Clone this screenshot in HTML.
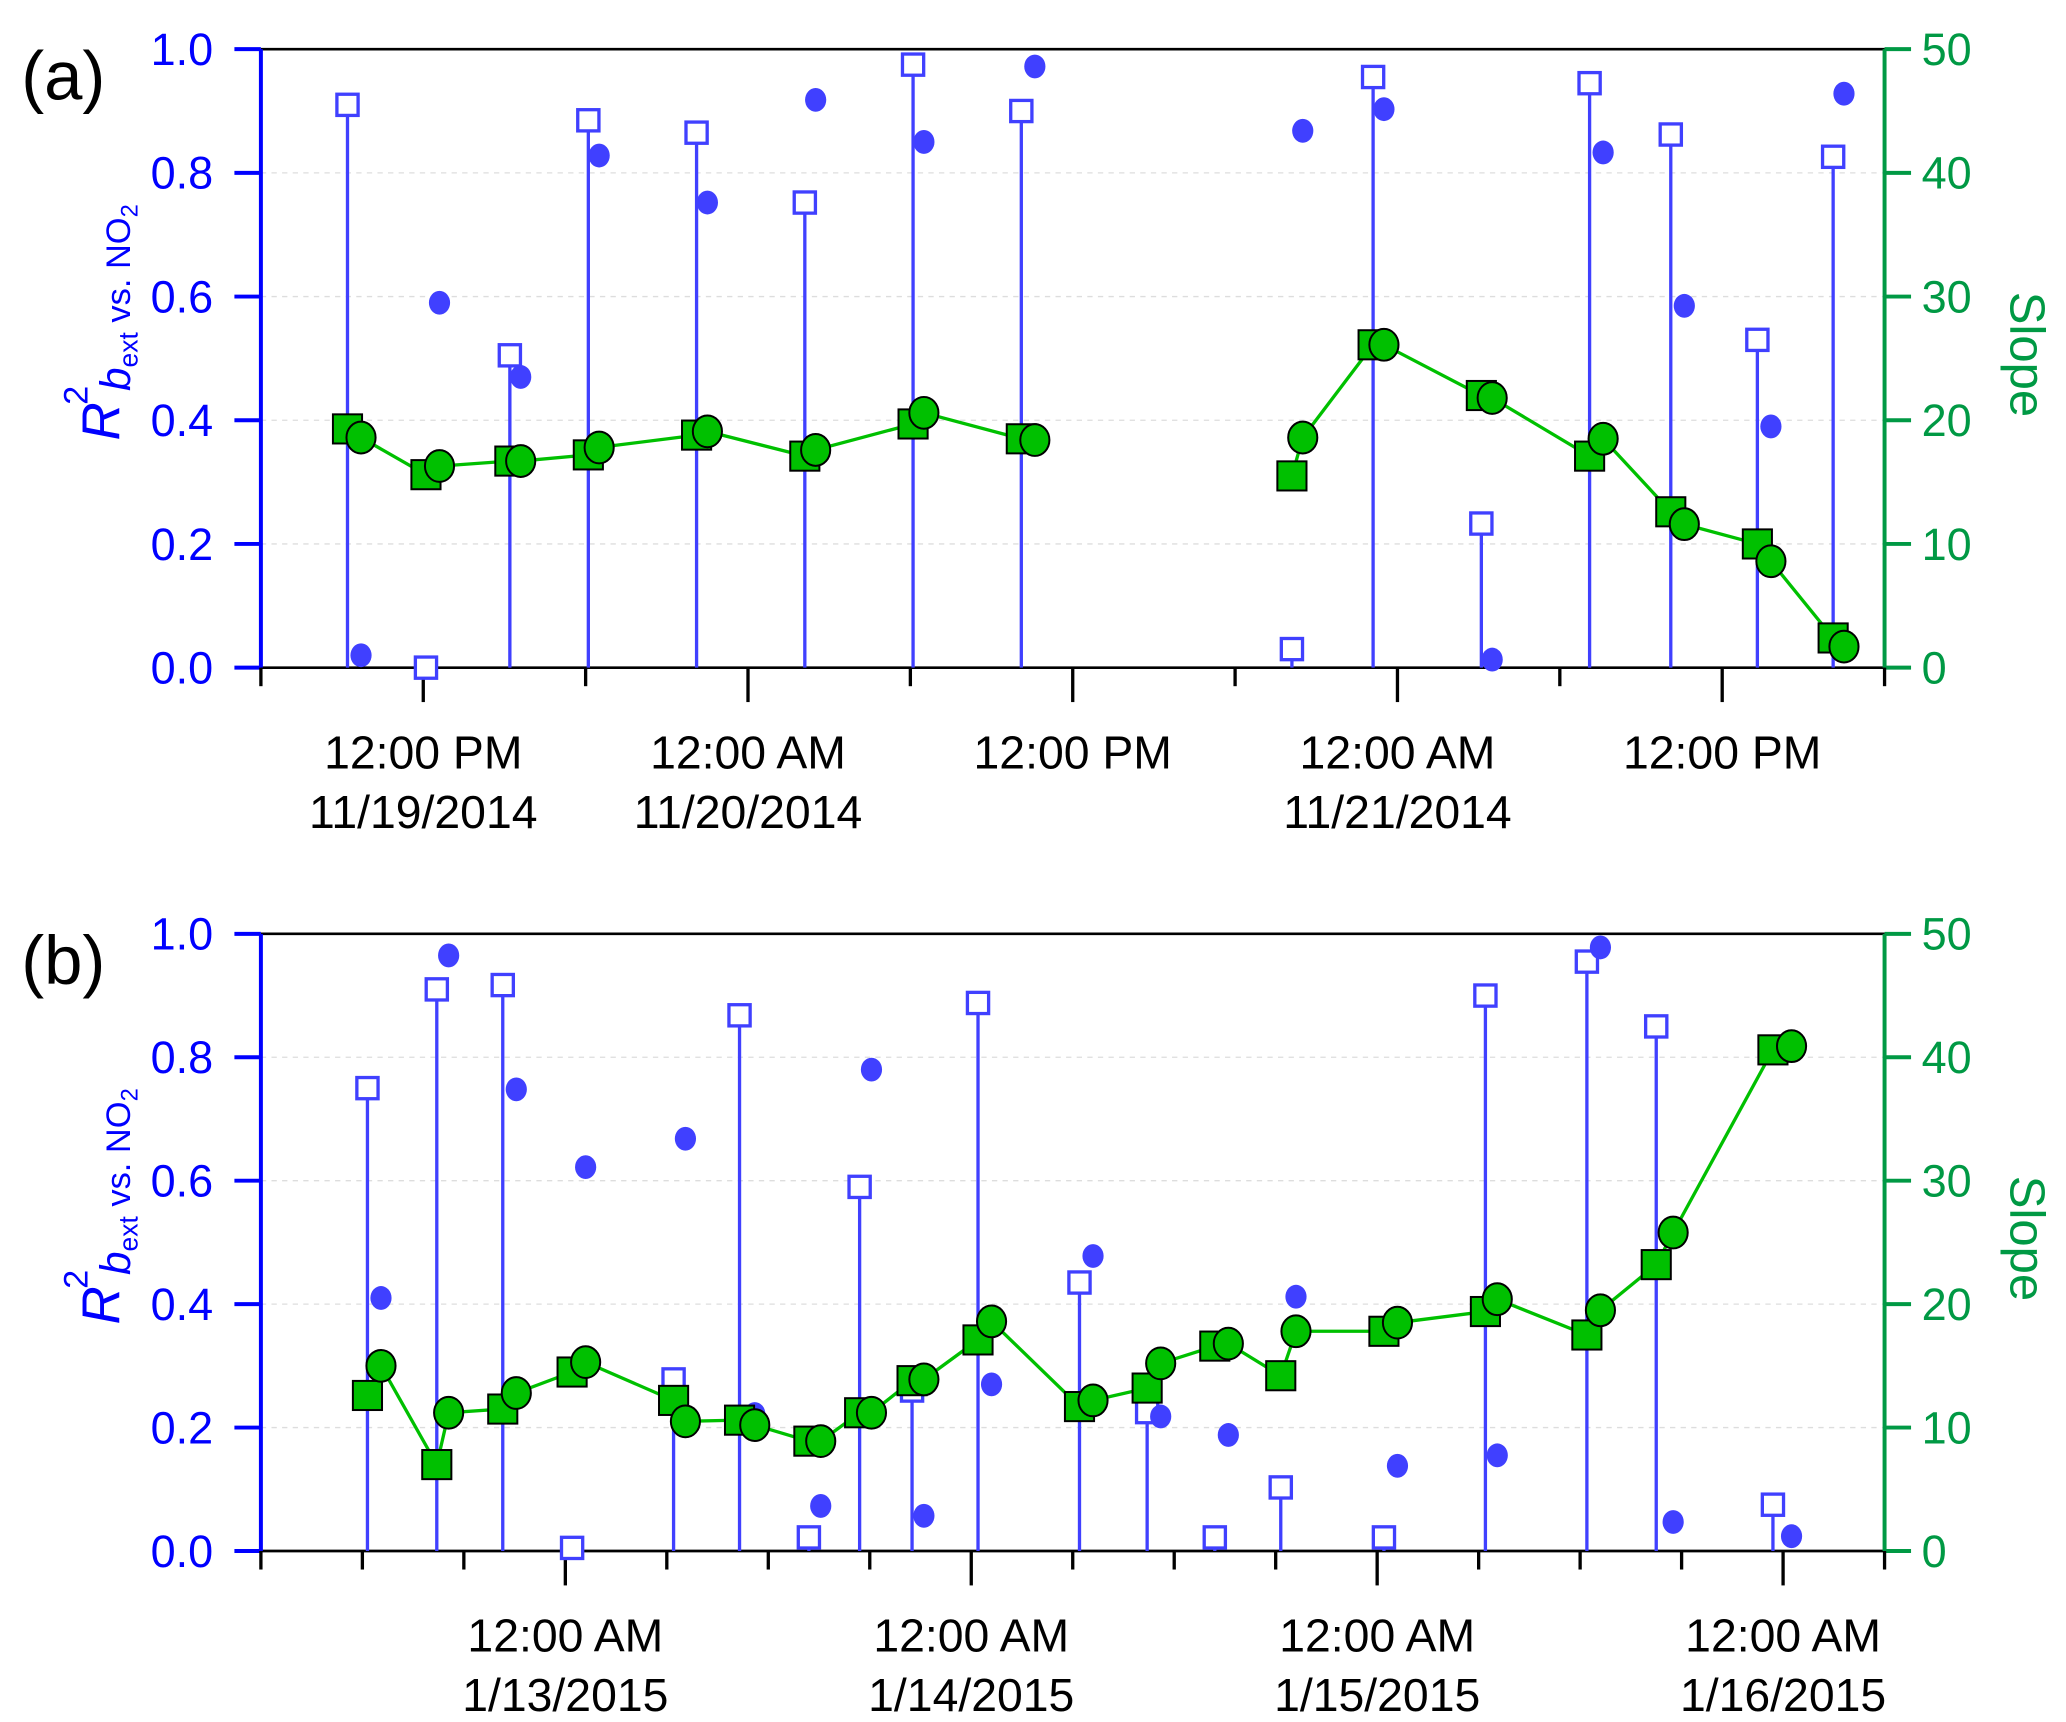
<!DOCTYPE html>
<html><head><meta charset="utf-8"><style>
html,body{margin:0;padding:0;background:#fff;}
svg{display:block;font-family:"Liberation Sans",sans-serif;}
</style></head><body>
<svg id="fig" width="2066" height="1722" viewBox="0 0 1560 1300" xmlns="http://www.w3.org/2000/svg"></svg>
<script>
// Panel (a) data: hours since 6:00 AM 11/19/2014
const aSqTime = [3.2,6.1,9.2,12.1,16.1,20.1,24.1,28.1,38.1,41.1,45.1,49.1,52.1,55.3,58.1];
const aSqR2 = [0.91,0.0,0.505,0.885,0.865,0.752,0.975,0.90,0.03,0.955,0.233,0.945,0.862,0.53,0.826];
const aSqSlope = [19.3,15.6,16.7,17.2,18.8,17.1,19.7,18.5,15.5,26.1,22.0,17.1,12.6,10.0,2.4];
const aCiTime = [3.7,6.6,9.6,12.5,16.5,20.5,24.5,28.6,38.5,41.5,45.5,49.6,52.6,55.8,58.5];
const aCiR2 = [0.02,0.59,0.47,0.828,0.752,0.918,0.85,0.972,0.868,0.903,0.013,0.833,0.585,0.39,0.928];
const aCiSlope = [18.6,16.3,16.7,17.8,19.1,17.6,20.6,18.4,18.6,26.1,21.8,18.5,11.6,8.6,1.7];
const aTickLabels = [["12:00 PM","11/19/2014"],["12:00 AM","11/20/2014"],["12:00 PM",""],["12:00 AM","11/21/2014"],["12:00 PM",""]];
const aMajorHours = [6,18,30,42,54];
// Panel (b) data: hours since 6:00 AM 1/12/2015
const bSqTime = [6.3,10.4,14.3,18.4,24.4,28.3,32.4,35.4,38.5,42.4,48.4,52.4,56.4,60.3,66.4,72.4,78.4,82.5,89.4];
const bSqR2 = [0.75,0.91,0.917,0.005,0.278,0.868,0.022,0.59,0.26,0.888,0.435,0.225,0.022,0.103,0.022,0.90,0.955,0.85,0.075];
const bSqSlope = [12.6,7.0,11.5,14.5,12.2,10.6,8.9,11.2,13.8,17.1,11.7,13.2,16.6,14.2,17.8,19.4,17.5,23.2,40.6];
const bCiTime = [7.1,11.1,15.1,19.2,25.1,29.2,33.1,36.1,39.2,43.2,49.2,53.2,57.2,61.2,67.2,73.1,79.2,83.5,90.5];
const bCiR2 = [0.41,0.965,0.748,0.622,0.668,0.222,0.073,0.78,0.057,0.27,0.478,0.218,0.188,0.412,0.138,0.155,0.978,0.047,0.024];
const bCiSlope = [15.0,11.2,12.8,15.3,10.5,10.2,8.9,11.2,13.9,18.6,12.2,15.2,16.8,17.8,18.5,20.4,19.5,25.8,40.9];
const bTickLabels = [["12:00 AM","1/13/2015"],["12:00 AM","1/14/2015"],["12:00 AM","1/15/2015"],["12:00 AM","1/16/2015"]];
const bMajorHours = [18,42,66,90];
const r2Ticks = ["0.0","0.2","0.4","0.6","0.8","1.0"];
const slopeTicks = ["0","10","20","30","40","50"];

const NS="http://www.w3.org/2000/svg";
const svg=document.getElementById('fig');
function mk(tag,attrs,parent){const e=document.createElementNS(NS,tag);for(const k in attrs)e.setAttribute(k,attrs[k]);(parent||svg).appendChild(e);return e;}

function panel(cfg){
  const L=197,R=1423,T=cfg.top,B=cfg.bottom;
  const g=mk('g',{});
  
  
  const xs=h=>L+(R-L)*h/cfg.span;
  const yL=v=>B-(B-T)*v;
  const yR=v=>B-(B-T)*v/50;
  for(let i=1;i<5;i++){const l=mk('line',{x1:L,x2:R,y1:yL(i*0.2),y2:yL(i*0.2),stroke:'#ddd','stroke-width':1,'stroke-dasharray':'4,4'},g);
    }
  let e=mk('line',{x1:L,x2:R,y1:T,y2:T,stroke:'#000','stroke-width':2},g);
  e=mk('line',{x1:L,x2:R,y1:B,y2:B,stroke:'#000','stroke-width':2},g);
  e=mk('line',{x1:L,x2:L,y1:T,y2:B,stroke:'#0000ff','stroke-width':3},g);
  e=mk('line',{x1:R,x2:R,y1:T,y2:B,stroke:'#009944','stroke-width':3},g);
  r2Ticks.forEach((t,i)=>{const y=yL(i*0.2);
    mk('line',{x1:L-20,x2:L,y1:y,y2:y,stroke:'#0000ff','stroke-width':3},g);
    const tx=mk('text',{x:L-36,y:y+12,'text-anchor':'end','font-size':34,fill:'#0000ff'},g);tx.textContent=t;
    });
  slopeTicks.forEach((t,i)=>{const y=yR(i*10);
    mk('line',{x1:R,x2:R+20,y1:y,y2:y,stroke:'#009944','stroke-width':3},g);
    const tx=mk('text',{x:R+28,y:y+12,'font-size':34,fill:'#009944'},g);tx.textContent=t;
    });
  for(let h=0;h<=cfg.span;h+=6){const maj=cfg.major.includes(h);
    mk('line',{x1:xs(h),x2:xs(h),y1:B,y2:B+(maj?26:14),stroke:'#000','stroke-width':2.5},g);}
  cfg.major.forEach((h,i)=>{
    const t1=mk('text',{x:xs(h),y:B+76,'text-anchor':'middle','font-size':35,fill:'#000'},g);t1.textContent=cfg.labels[i][0];
    
    if(cfg.labels[i][1]){const t2=mk('text',{x:xs(h),y:B+121,'text-anchor':'middle','font-size':35,fill:'#000'},g);t2.textContent=cfg.labels[i][1];
      }
  });
  e=mk('text',{x:16,y:T+38,'font-size':52,fill:'#000'},g);e.textContent=cfg.tag;
  
  const yt=mk('text',{transform:`translate(90,${(T+B)/2+62}) rotate(-90)`,'text-anchor':'start',fill:'#0000ff','font-size':26},g);
  
  yt.innerHTML='<tspan font-size="40" font-style="italic">R</tspan><tspan font-size="26" dy="-24" dx="-2">2</tspan><tspan dy="32" dx="-4" font-size="32" font-style="italic">b</tspan><tspan font-size="20" dy="6">ext</tspan><tspan dy="-6" font-size="26"> vs. NO</tspan><tspan font-size="18" dy="6">2</tspan>';
  const st=mk('text',{transform:`translate(1518,${(T+B)/2-3}) rotate(90)`,'text-anchor':'middle',fill:'#009944','font-size':37},g);
  st.textContent='Slope';
  cfg.sqT.forEach((h,i)=>{const x=xs(h),y=yL(cfg.sqR2[i]);
    const s=mk('line',{x1:x,x2:x,y1:B,y2:y,stroke:'#4040ff','stroke-width':2.5},g);
    
    const r=mk('rect',{x:x-8,y:y-8,width:16,height:16,fill:'#fff',stroke:'#4040ff','stroke-width':2.5},g);
    });
  cfg.ciT.forEach((h,i)=>{
    const c=mk('ellipse',{cx:xs(h),cy:yL(cfg.ciR2[i]),rx:8,ry:9,fill:'#4040ff'},g);
    });
  const pts=[];cfg.sqT.forEach((h,i)=>pts.push([h,cfg.sqSl[i]]));cfg.ciT.forEach((h,i)=>pts.push([h,cfg.ciSl[i]]));
  pts.sort((a,b)=>a[0]-b[0]);
  let d='';pts.forEach((p,i)=>{const brk=i===0||(p[0]-pts[i-1][0])>cfg.gap;d+=(brk?'M':'L')+xs(p[0]).toFixed(1)+','+yR(p[1]).toFixed(1);});
  const pl=mk('path',{d:d,fill:'none',stroke:'#00c000','stroke-width':2.5},g);
  
  cfg.sqT.forEach((h,i)=>{const x=xs(h),y=yR(cfg.sqSl[i]);
    const r=mk('rect',{x:x-11,y:y-11,width:22,height:22,fill:'#00c000',stroke:'#000','stroke-width':1.5},g);
    });
  cfg.ciT.forEach((h,i)=>{
    const c=mk('ellipse',{cx:xs(h),cy:yR(cfg.ciSl[i]),rx:11,ry:12,fill:'#00c000',stroke:'#000','stroke-width':1.5},g);
    });
}
panel({name:'panel-a',tag:'(a)',top:37,bottom:504,span:60,major:aMajorHours,labels:aTickLabels,
  sqT:aSqTime,sqR2:aSqR2,sqSl:aSqSlope,ciT:aCiTime,ciR2:aCiR2,ciSl:aCiSlope,gap:6});
panel({name:'panel-b',tag:'(b)',top:705,bottom:1171,span:96,major:bMajorHours,labels:bTickLabels,
  sqT:bSqTime,sqR2:bSqR2,sqSl:bSqSlope,ciT:bCiTime,ciR2:bCiR2,ciSl:bCiSlope,gap:20});
</script>
</body></html>
